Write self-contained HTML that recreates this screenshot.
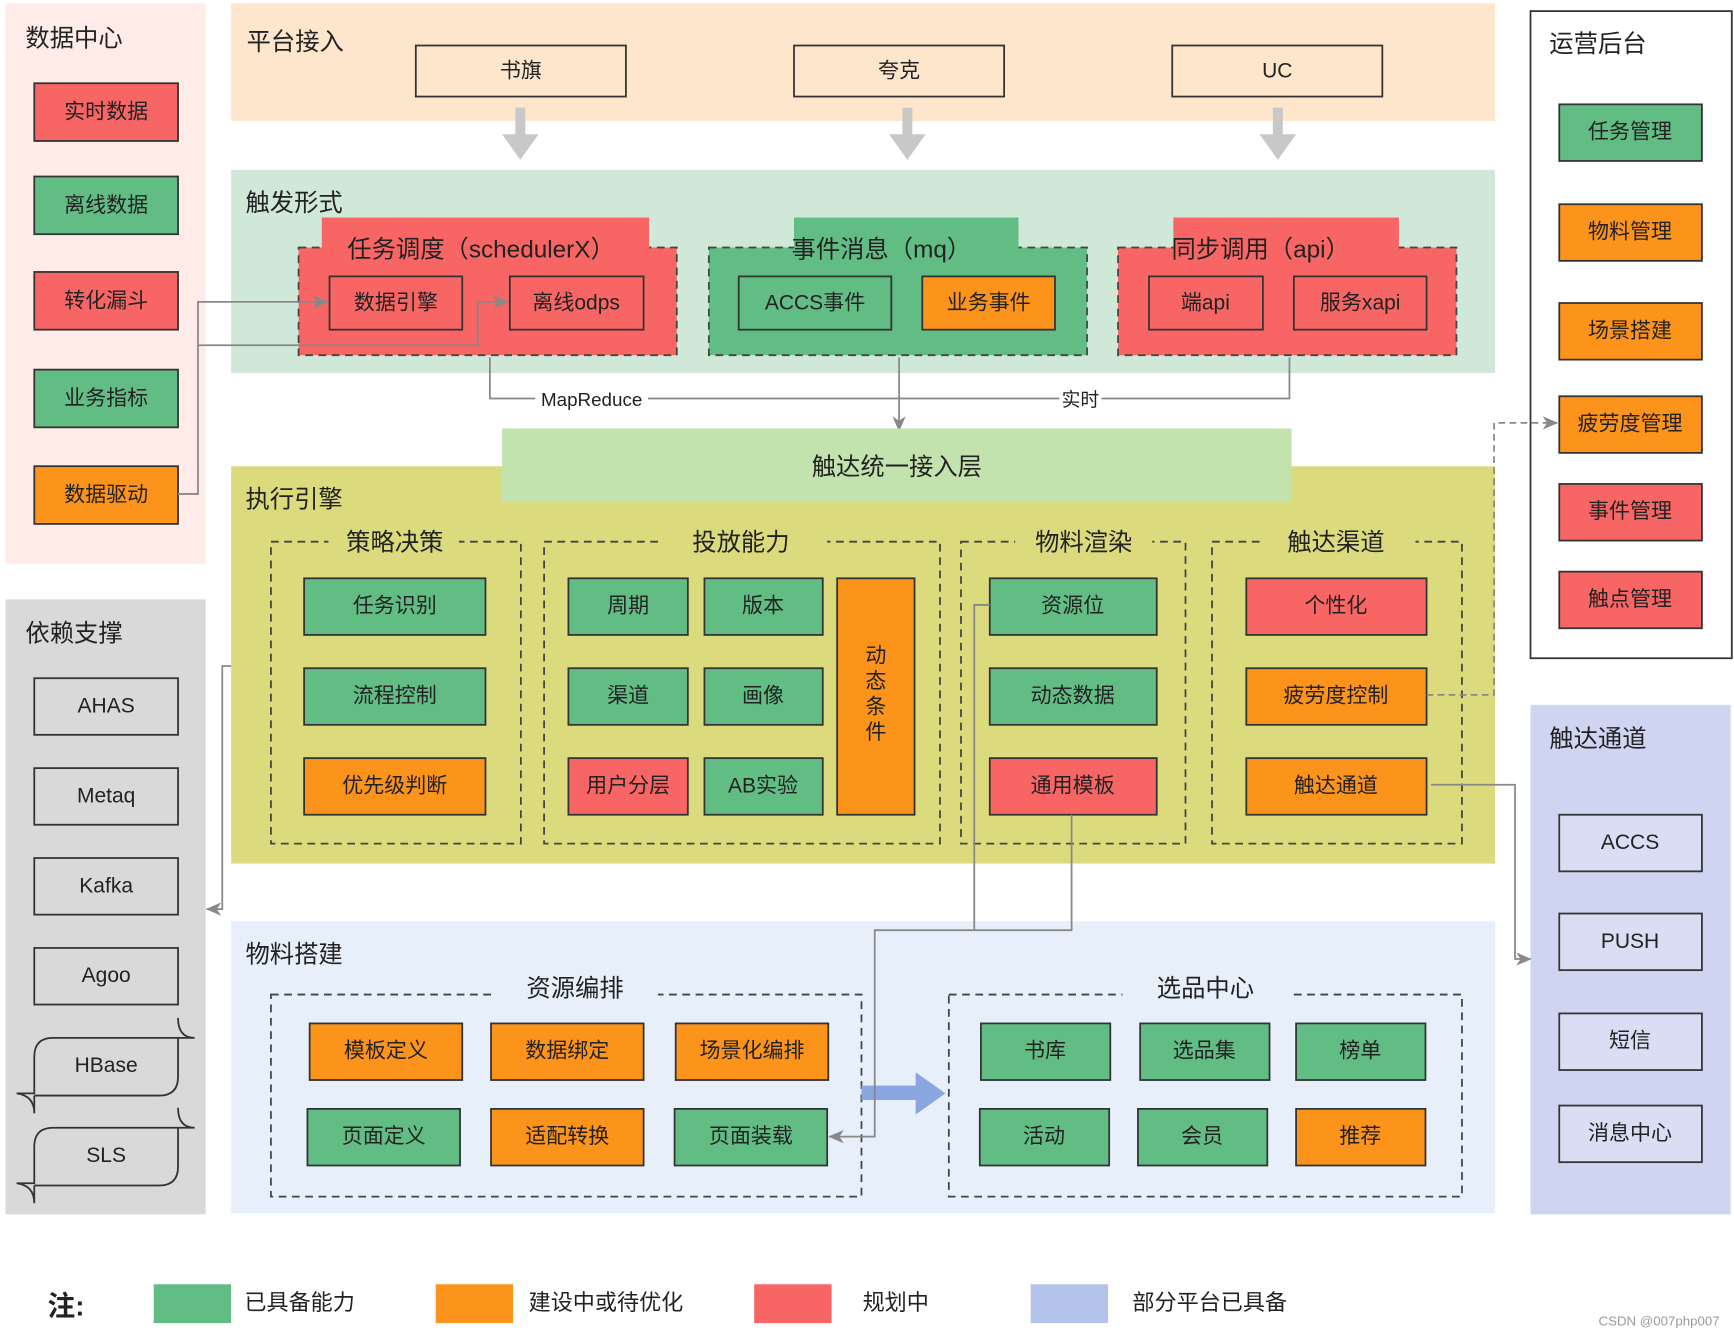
<!DOCTYPE html>
<html><head><meta charset="utf-8"><style>
html,body{margin:0;padding:0;background:#fff}
svg{display:block}
text{font-family:"Liberation Sans","Noto Sans CJK SC",sans-serif;fill:#222}
</style></head><body>
<svg width="1734" height="1332" viewBox="0 0 1568 1200" preserveAspectRatio="none" xmlns="http://www.w3.org/2000/svg">
<defs>
<marker id="ah" markerWidth="14" markerHeight="12" refX="13" refY="6" orient="auto" markerUnits="userSpaceOnUse"><path d="M0,0 L14,6 L0,12 L4,6 z" fill="#888"/></marker>
</defs>
<style>
.g{fill:#62bd85}.o{fill:#fc931a}.r{fill:#f86565}
.b{stroke:#333;stroke-width:1.6}
.t{font-size:19px;text-anchor:middle;dominant-baseline:central}
.h{font-size:22px}
.d{fill:none;stroke:#444;stroke-width:1.6;stroke-dasharray:7 5}
.c{fill:none;stroke:#888;stroke-width:1.6}
</style>

<rect x="5" y="3" width="181" height="505" fill="#ffece9"/>
<text x="23" y="42" class="h">数据中心</text>
<rect x="31" y="75" width="130" height="52" class="r b"/><text x="96" y="101" class="t">实时数据</text>
<rect x="31" y="159" width="130" height="52" class="g b"/><text x="96" y="185" class="t">离线数据</text>
<rect x="31" y="245" width="130" height="52" class="r b"/><text x="96" y="271" class="t">转化漏斗</text>
<rect x="31" y="333" width="130" height="52" class="g b"/><text x="96" y="359" class="t">业务指标</text>
<rect x="31" y="420" width="130" height="52" class="o b"/><text x="96" y="446" class="t">数据驱动</text>

<rect x="209" y="3" width="1143" height="106" fill="#fde6cc"/>
<text x="223" y="45" class="h">平台接入</text>
<rect x="376" y="41" width="190" height="46" fill="#fde6cc" class="b"/><text x="471" y="64" class="t">书旗</text>
<rect x="718" y="41" width="190" height="46" fill="#fde6cc" class="b"/><text x="813" y="64" class="t">夸克</text>
<rect x="1060" y="41" width="190" height="46" fill="#fde6cc" class="b"/><text x="1155" y="64" class="t">UC</text>
<g fill="#c8c8c8">
<path d="M466,97 h9 v24 h12 l-16.5,23 l-16.5,-23 h12 z"/>
<path d="M816,97 h9 v24 h12 l-16.5,23 l-16.5,-23 h12 z"/>
<path d="M1151,97 h9 v24 h12 l-16.5,23 l-16.5,-23 h12 z"/>
</g>

<rect x="209" y="153" width="1143" height="183" fill="#cfe8d8"/>
<text x="222" y="190" class="h">触发形式</text>
<rect x="270" y="223" width="342" height="97" class="r"/>
<rect x="270" y="223" width="342" height="97" class="d"/>
<rect x="291" y="196" width="296" height="31" class="r"/>
<text x="435" y="225" class="t" style="font-size:22px">任务调度（schedulerX）</text>
<rect x="298" y="249" width="120" height="48" class="r b"/><text x="358" y="273" class="t">数据引擎</text>
<rect x="461" y="249" width="121" height="48" class="r b"/><text x="521" y="273" class="t">离线odps</text>

<rect x="641" y="223" width="342" height="97" class="g"/>
<rect x="641" y="223" width="342" height="97" class="d"/>
<rect x="718" y="196" width="203" height="31" class="g"/>
<text x="797" y="225" class="t" style="font-size:22px">事件消息（mq）</text>
<rect x="668" y="249" width="138" height="48" class="g b"/><text x="737" y="273" class="t">ACCS事件</text>
<rect x="834" y="249" width="120" height="48" class="o b"/><text x="894" y="273" class="t">业务事件</text>

<rect x="1011" y="223" width="306" height="97" class="r"/>
<rect x="1011" y="223" width="306" height="97" class="d"/>
<rect x="1061" y="196" width="204" height="31" class="r"/>
<text x="1140" y="225" class="t" style="font-size:22px">同步调用（api）</text>
<rect x="1039" y="249" width="103" height="48" class="r b"/><text x="1090" y="273" class="t">端api</text>
<rect x="1170" y="249" width="120" height="48" class="r b"/><text x="1230" y="273" class="t">服务xapi</text>

<path d="M161,445 H179 V272 H296" class="c" marker-end="url(#ah)"/>
<path d="M179,311 H432 V272 H459" class="c" marker-end="url(#ah)"/>
<path d="M443,322 V359 H1166 V322" class="c"/>
<rect x="484" y="349" width="102" height="20" fill="#fff"/><text x="535" y="360" class="t" style="font-size:17px">MapReduce</text>
<rect x="958" y="349" width="38" height="20" fill="#fff"/><text x="977" y="360" class="t" style="font-size:17px">实时</text>
<path d="M813,322 V388" class="c" marker-end="url(#ah)"/>

<rect x="209" y="420" width="1143" height="358" fill="#dbdb7d"/>
<rect x="454" y="386" width="714" height="66" fill="#c3e3ae"/>
<text x="811" y="421" class="t" style="font-size:22px">触达统一接入层</text>
<text x="222" y="457" class="h">执行引擎</text>

<rect x="245" y="488" width="226" height="272" class="d"/><rect x="297" y="478" width="118" height="20" fill="#dbdb7d"/><text x="357" y="489" class="t" style="font-size:22px">策略决策</text>
<rect x="492" y="488" width="358" height="272" class="d"/><rect x="598" y="478" width="150" height="20" fill="#dbdb7d"/><text x="670" y="489" class="t" style="font-size:22px">投放能力</text>
<rect x="869" y="488" width="203" height="272" class="d"/><rect x="918" y="478" width="124" height="20" fill="#dbdb7d"/><text x="980" y="489" class="t" style="font-size:22px">物料渲染</text>
<rect x="1096" y="488" width="226" height="272" class="d"/><rect x="1140" y="478" width="140" height="20" fill="#dbdb7d"/><text x="1208" y="489" class="t" style="font-size:22px">触达渠道</text>

<rect x="275" y="521" width="164" height="51" class="g b"/><text x="357" y="546" class="t">任务识别</text>
<rect x="275" y="602" width="164" height="51" class="g b"/><text x="357" y="627" class="t">流程控制</text>
<rect x="275" y="683" width="164" height="51" class="o b"/><text x="357" y="708" class="t">优先级判断</text>

<rect x="514" y="521" width="108" height="51" class="g b"/><text x="568" y="546" class="t">周期</text>
<rect x="637" y="521" width="107" height="51" class="g b"/><text x="690" y="546" class="t">版本</text>
<rect x="514" y="602" width="108" height="51" class="g b"/><text x="568" y="627" class="t">渠道</text>
<rect x="637" y="602" width="107" height="51" class="g b"/><text x="690" y="627" class="t">画像</text>
<rect x="514" y="683" width="108" height="51" class="r b"/><text x="568" y="708" class="t">用户分层</text>
<rect x="637" y="683" width="107" height="51" class="g b"/><text x="690" y="708" class="t">AB实验</text>
<rect x="757" y="521" width="70" height="213" class="o b"/>
<text x="792" y="591" class="t">动</text><text x="792" y="614" class="t">态</text><text x="792" y="637" class="t">条</text><text x="792" y="660" class="t">件</text>

<rect x="895" y="521" width="151" height="51" class="g b"/><text x="970" y="546" class="t">资源位</text>
<rect x="895" y="602" width="151" height="51" class="g b"/><text x="970" y="627" class="t">动态数据</text>
<rect x="895" y="683" width="151" height="51" class="r b"/><text x="970" y="708" class="t">通用模板</text>

<rect x="1127" y="521" width="163" height="51" class="r b"/><text x="1208" y="546" class="t">个性化</text>
<rect x="1127" y="602" width="163" height="51" class="o b"/><text x="1208" y="627" class="t">疲劳度控制</text>
<rect x="1127" y="683" width="163" height="51" class="o b"/><text x="1208" y="708" class="t">触达通道</text>

<rect x="209" y="830" width="1143" height="263" fill="#e6effa"/>
<text x="222" y="867" class="h">物料搭建</text>
<rect x="245" y="896" width="534" height="182" class="d"/><rect x="445" y="884" width="150" height="22" fill="#e6effa"/><text x="520" y="891" class="t" style="font-size:22px">资源编排</text>
<rect x="858" y="896" width="464" height="182" class="d"/><rect x="1015" y="884" width="152" height="22" fill="#e6effa"/><text x="1090" y="891" class="t" style="font-size:22px">选品中心</text>

<rect x="280" y="922" width="138" height="51" class="o b"/><text x="349" y="947" class="t">模板定义</text>
<rect x="444" y="922" width="138" height="51" class="o b"/><text x="513" y="947" class="t">数据绑定</text>
<rect x="611" y="922" width="138" height="51" class="o b"/><text x="680" y="947" class="t">场景化编排</text>
<rect x="278" y="999" width="138" height="51" class="g b"/><text x="347" y="1024" class="t">页面定义</text>
<rect x="444" y="999" width="138" height="51" class="o b"/><text x="513" y="1024" class="t">适配转换</text>
<rect x="610" y="999" width="138" height="51" class="g b"/><text x="679" y="1024" class="t">页面装载</text>

<rect x="887" y="922" width="117" height="51" class="g b"/><text x="945" y="947" class="t">书库</text>
<rect x="1031" y="922" width="117" height="51" class="g b"/><text x="1089" y="947" class="t">选品集</text>
<rect x="1172" y="922" width="117" height="51" class="g b"/><text x="1230" y="947" class="t">榜单</text>
<rect x="886" y="999" width="117" height="51" class="g b"/><text x="944" y="1024" class="t">活动</text>
<rect x="1029" y="999" width="117" height="51" class="g b"/><text x="1087" y="1024" class="t">会员</text>
<rect x="1172" y="999" width="117" height="51" class="o b"/><text x="1230" y="1024" class="t">推荐</text>

<path d="M779,978 H828 V966 L855,985 L828,1004 V991 H779 z" fill="#8aa6e0"/>
<path d="M969,734 V838 H791 V1024 H750" class="c" marker-end="url(#ah)"/>
<path d="M895,545 H881 V838" class="c"/>

<rect x="5" y="540" width="181" height="554" fill="#d9d9d9"/>
<text x="23" y="578" class="h">依赖支撑</text>
<rect x="31" y="611" width="130" height="51" fill="none" class="b"/><text x="96" y="636" class="t">AHAS</text>
<rect x="31" y="692" width="130" height="51" fill="none" class="b"/><text x="96" y="717" class="t">Metaq</text>
<rect x="31" y="773" width="130" height="51" fill="none" class="b"/><text x="96" y="798" class="t">Kafka</text>
<rect x="31" y="854" width="130" height="51" fill="none" class="b"/><text x="96" y="879" class="t">Agoo</text>
<g fill="none" stroke="#333" stroke-width="1.6">
<path d="M15,985 H31 V952 Q31,935 48,935 H176 M161,935 V970 Q161,987 144,987 H31 M31,987 V1003 Q31,987 15,985 M161,917 Q161,935 176,935"/>
<path d="M15,1066 H31 V1033 Q31,1016 48,1016 H176 M161,1016 V1051 Q161,1068 144,1068 H31 M31,1068 V1084 Q31,1068 15,1066 M161,998 Q161,1016 176,1016"/>
</g>
<text x="96" y="960" class="t">HBase</text>
<text x="96" y="1041" class="t">SLS</text>
<path d="M209,600 H201 V819 H187" class="c" marker-end="url(#ah)"/>

<rect x="1384" y="10" width="182" height="583" fill="#fff" class="b"/>
<text x="1401" y="47" class="h">运营后台</text>
<rect x="1410" y="94" width="129" height="51" class="g b"/><text x="1474" y="119" class="t">任务管理</text>
<rect x="1410" y="184" width="129" height="51" class="o b"/><text x="1474" y="209" class="t">物料管理</text>
<rect x="1410" y="273" width="129" height="51" class="o b"/><text x="1474" y="298" class="t">场景搭建</text>
<rect x="1410" y="357" width="129" height="51" class="o b"/><text x="1474" y="382" class="t">疲劳度管理</text>
<rect x="1410" y="436" width="129" height="51" class="r b"/><text x="1474" y="461" class="t">事件管理</text>
<rect x="1410" y="515" width="129" height="51" class="r b"/><text x="1474" y="540" class="t">触点管理</text>
<path d="M1290,626 H1351 V381 H1408" class="c" stroke-dasharray="6 4" marker-end="url(#ah)"/>

<rect x="1384" y="635" width="181" height="459" fill="#cfd5f1"/>
<text x="1401" y="673" class="h">触达通道</text>
<rect x="1410" y="734" width="129" height="51" fill="#d9def5" class="b"/><text x="1474" y="759" class="t">ACCS</text>
<rect x="1410" y="823" width="129" height="51" fill="#d9def5" class="b"/><text x="1474" y="848" class="t">PUSH</text>
<rect x="1410" y="913" width="129" height="51" fill="#d9def5" class="b"/><text x="1474" y="938" class="t">短信</text>
<rect x="1410" y="996" width="129" height="51" fill="#d9def5" class="b"/><text x="1474" y="1021" class="t">消息中心</text>
<path d="M1294,707 H1370 V864 H1384" class="c" marker-end="url(#ah)"/>

<text x="43" y="1185" style="font-size:25px;font-weight:bold">注:</text>
<rect x="139" y="1157" width="70" height="35" class="g"/><text x="221" y="1180" style="font-size:20px">已具备能力</text>
<rect x="394" y="1157" width="70" height="35" class="o"/><text x="478" y="1180" style="font-size:20px">建设中或待优化</text>
<rect x="682" y="1157" width="70" height="35" class="r"/><text x="780" y="1180" style="font-size:20px">规划中</text>
<rect x="932" y="1157" width="70" height="35" fill="#b3c3ec"/><text x="1024" y="1180" style="font-size:20px">部分平台已具备</text>
<text x="1555" y="1194" style="font-size:12px;fill:#999;text-anchor:end">CSDN @007php007</text>
</svg>
</body></html>
